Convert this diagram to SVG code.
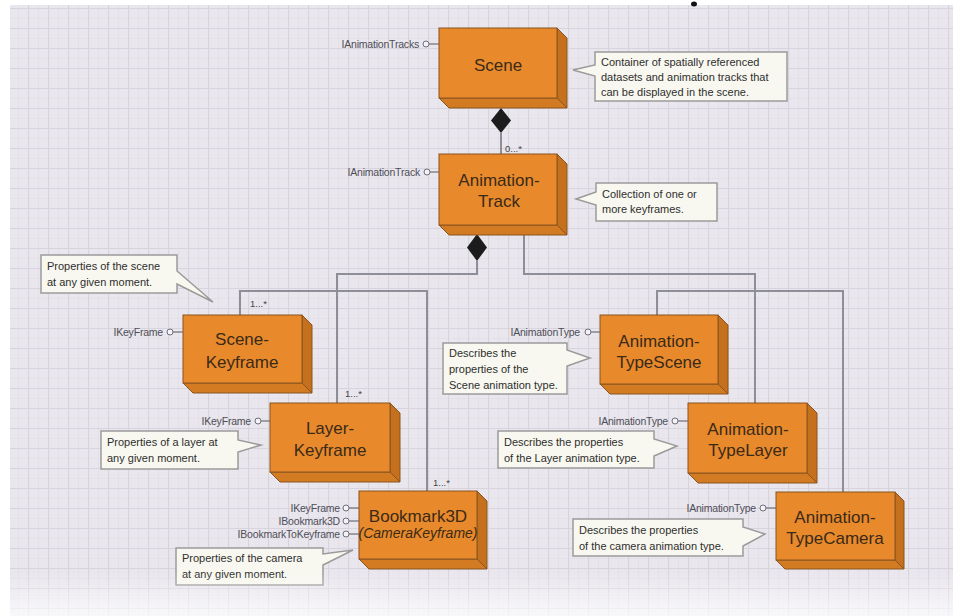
<svg xmlns="http://www.w3.org/2000/svg" width="953" height="616" viewBox="0 0 953 616">
<defs>
<pattern id="grid" patternUnits="userSpaceOnUse" x="8" y="8" width="20" height="20">
<path d="M0 10.5H20M10.5 0V20" stroke="#e3e0e8" stroke-width="1" fill="none"/>
<path d="M0 0.5H20M0.5 0V20" stroke="#d8d4dd" stroke-width="1.2" fill="none"/>
</pattern>
<linearGradient id="fade" x1="0" y1="0" x2="0" y2="1">
<stop offset="0" stop-color="#fff" stop-opacity="0"/>
<stop offset="1" stop-color="#fff" stop-opacity="0.7"/>
</linearGradient>
<style>
.front{fill:#e8892b;stroke:#8a5420;stroke-width:1}
.side{fill:#c4701d;stroke:#8a5420;stroke-width:1}
.bottom{fill:#d27b22;stroke:#8a5420;stroke-width:1}
.title{font-family:"Liberation Sans",Arial,sans-serif;font-size:17px;fill:#3a2a18;text-anchor:middle}
.ital{font-style:italic;font-size:14px}
.iface{font-family:"Liberation Sans",Arial,sans-serif;font-size:10.5px;fill:#4e4e58;text-anchor:end;letter-spacing:-0.2px}
.lol{fill:#f4f2f6;stroke:#6e6e78;stroke-width:1}
.lolline{stroke:#6e6e78;stroke-width:1.2}
.note{fill:#f8f8f0;stroke:#9a9a9a;stroke-width:1.5}
.ntext{font-family:"Liberation Sans",Arial,sans-serif;font-size:11px;fill:#2e2e2e}
.conn{fill:none;stroke:#8e8e98;stroke-width:2}
.mult{font-family:"Liberation Sans",Arial,sans-serif;font-size:9.5px;fill:#444}
.dia{fill:#1c1c1c}
</style>
</defs>

<rect x="0" y="0" width="953" height="616" fill="#ffffff"/>
<rect x="10" y="5" width="943" height="611" fill="#e9e6ed"/>
<rect x="10" y="5" width="943" height="611" fill="url(#grid)"/>
<ellipse cx="694" cy="4" rx="3" ry="2.5" fill="#111"/>

<g id="connectors">
<path class="conn" d="M501 133V154"/>
<path class="conn" d="M477 261V274H337V403"/>
<path class="conn" d="M524 235V274H755V403"/>
<path class="conn" d="M240 315V291H427V491"/>
<path class="conn" d="M657 315V291H843V492"/>
<polygon class="dia" points="501,108 511,120.5 501,133 491,120.5"/>
<polygon class="dia" points="477,234 487,247.5 477,261 467,247.5"/>
<text class="mult" x="505" y="152">0...*</text>
<text class="mult" x="250" y="307">1...*</text>
<text class="mult" x="345" y="397">1...*</text>
<text class="mult" x="433" y="486">1...*</text>
</g>

<g id="scene">
<polygon class="side" points="557,28 567,38 567,108 557,98"/>
<polygon class="bottom" points="439,98 557,98 567,108 449,108"/>
<rect class="front" x="439" y="28" width="118" height="70"/>
<text class="title" x="498" y="71">Scene</text>
<line class="lolline" x1="429" y1="44" x2="439" y2="44"/>
<circle class="lol" cx="426" cy="44" r="3"/>
<text class="iface" x="419" y="48">IAnimationTracks</text>
</g>
<g id="note-scene">
<path class="note" d="M595 52H787V101H595V76L573 70L595 65Z"/>
<text class="ntext" x="601" y="66">Container of spatially referenced</text>
<text class="ntext" x="601" y="81">datasets and animation tracks that</text>
<text class="ntext" x="601" y="96">can be displayed in the scene.</text>
</g>

<g id="animation-track">
<polygon class="side" points="557,154 567,164 567,235 557,225"/>
<polygon class="bottom" points="439,225 557,225 567,235 449,235"/>
<rect class="front" x="439" y="154" width="118" height="71"/>
<text class="title" x="499" y="186">Animation-</text>
<text class="title" x="499" y="207">Track</text>
<line class="lolline" x1="430" y1="172" x2="439" y2="172"/>
<circle class="lol" cx="427" cy="172" r="3"/>
<text class="iface" x="420" y="176">IAnimationTrack</text>
</g>
<g id="note-track">
<path class="note" d="M596 183H717V221H596V205L576 199L596 192Z"/>
<text class="ntext" x="602" y="198">Collection of one or</text>
<text class="ntext" x="602" y="213">more keyframes.</text>
</g>

<g id="scene-keyframe">
<polygon class="side" points="302,315 312,325 312,393 302,383"/>
<polygon class="bottom" points="183,383 302,383 312,393 193,393"/>
<rect class="front" x="183" y="315" width="119" height="68"/>
<text class="title" x="242" y="345">Scene-</text>
<text class="title" x="242" y="368">Keyframe</text>
<line class="lolline" x1="173" y1="332" x2="183" y2="332"/>
<circle class="lol" cx="170" cy="332" r="3"/>
<text class="iface" x="163" y="336">IKeyFrame</text>
</g>
<g id="note-scene-keyframe">
<path class="note" d="M41 255H177V271L213 302L177 284V293H41Z"/>
<text class="ntext" x="47" y="270">Properties of the scene</text>
<text class="ntext" x="47" y="286">at any given moment.</text>
</g>

<g id="layer-keyframe">
<polygon class="side" points="390,403 400,413 400,482 390,472"/>
<polygon class="bottom" points="270,472 390,472 400,482 280,482"/>
<rect class="front" x="270" y="403" width="120" height="69"/>
<text class="title" x="330" y="434">Layer-</text>
<text class="title" x="330" y="456">Keyframe</text>
<line class="lolline" x1="261" y1="421" x2="270" y2="421"/>
<circle class="lol" cx="258" cy="421" r="3"/>
<text class="iface" x="251" y="425">IKeyFrame</text>
</g>
<g id="note-layer-keyframe">
<path class="note" d="M101 431H238V440L261 445L238 452V469H101Z"/>
<text class="ntext" x="107" y="446">Properties of a layer at</text>
<text class="ntext" x="107" y="462">any given moment.</text>
</g>

<g id="bookmark3d">
<polygon class="side" points="477,491 487,501 487,569 477,559"/>
<polygon class="bottom" points="359,559 477,559 487,569 369,569"/>
<rect class="front" x="359" y="491" width="118" height="68"/>
<text class="title" x="418" y="522">Bookmark3D</text>
<text class="title ital" x="418" y="538">(CameraKeyframe)</text>
<line class="lolline" x1="349" y1="508" x2="359" y2="508"/>
<circle class="lol" cx="346" cy="508" r="3"/>
<text class="iface" x="340" y="512">IKeyFrame</text>
<line class="lolline" x1="349" y1="521" x2="359" y2="521"/>
<circle class="lol" cx="346" cy="521" r="3"/>
<text class="iface" x="340" y="525">IBookmark3D</text>
<line class="lolline" x1="349" y1="534" x2="359" y2="534"/>
<circle class="lol" cx="346" cy="534" r="3"/>
<text class="iface" x="340" y="538">IBookmarkToKeyframe</text>
</g>
<g id="note-bookmark3d">
<path class="note" d="M176 548H323V554L353 550L323 565V585H176Z"/>
<text class="ntext" x="182" y="562">Properties of the camera</text>
<text class="ntext" x="182" y="578">at any given moment.</text>
</g>

<g id="animation-type-scene">
<polygon class="side" points="718,315 728,325 728,394 718,384"/>
<polygon class="bottom" points="600,384 718,384 728,394 610,394"/>
<rect class="front" x="600" y="315" width="118" height="69"/>
<text class="title" x="659" y="347">Animation-</text>
<text class="title" x="659" y="368">TypeScene</text>
<line class="lolline" x1="591" y1="332" x2="600" y2="332"/>
<circle class="lol" cx="588" cy="332" r="3"/>
<text class="iface" x="580" y="336">IAnimationType</text>
</g>
<g id="note-type-scene">
<path class="note" d="M443 343H567V350L590 358L567 366V394H443Z"/>
<text class="ntext" x="449" y="357">Describes the</text>
<text class="ntext" x="449" y="373">properties of the</text>
<text class="ntext" x="449" y="389">Scene animation type.</text>
</g>

<g id="animation-type-layer">
<polygon class="side" points="807,403 817,413 817,483 807,473"/>
<polygon class="bottom" points="688,473 807,473 817,483 698,483"/>
<rect class="front" x="688" y="403" width="119" height="70"/>
<text class="title" x="748" y="435">Animation-</text>
<text class="title" x="748" y="456">TypeLayer</text>
<line class="lolline" x1="678" y1="421" x2="688" y2="421"/>
<circle class="lol" cx="675" cy="421" r="3"/>
<text class="iface" x="668" y="425">IAnimationType</text>
</g>
<g id="note-type-layer">
<path class="note" d="M498 431H654V439L677 446L654 456V468H498Z"/>
<text class="ntext" x="504" y="446">Describes the properties</text>
<text class="ntext" x="504" y="462">of the Layer animation type.</text>
</g>

<g id="animation-type-camera">
<polygon class="side" points="895,492 904,501 904,569 895,560"/>
<polygon class="bottom" points="776,560 895,560 904,569 785,569"/>
<rect class="front" x="776" y="492" width="119" height="68"/>
<text class="title" x="835" y="523">Animation-</text>
<text class="title" x="835" y="544">TypeCamera</text>
<line class="lolline" x1="766" y1="508" x2="776" y2="508"/>
<circle class="lol" cx="763" cy="508" r="3"/>
<text class="iface" x="756" y="512">IAnimationType</text>
</g>
<g id="note-type-camera">
<path class="note" d="M573 519H743V527L765 534L743 546V556H573Z"/>
<text class="ntext" x="579" y="534">Describes the properties</text>
<text class="ntext" x="579" y="550">of the camera animation type.</text>
</g>

<rect x="0" y="572" width="953" height="44" fill="url(#fade)"/>
</svg>
